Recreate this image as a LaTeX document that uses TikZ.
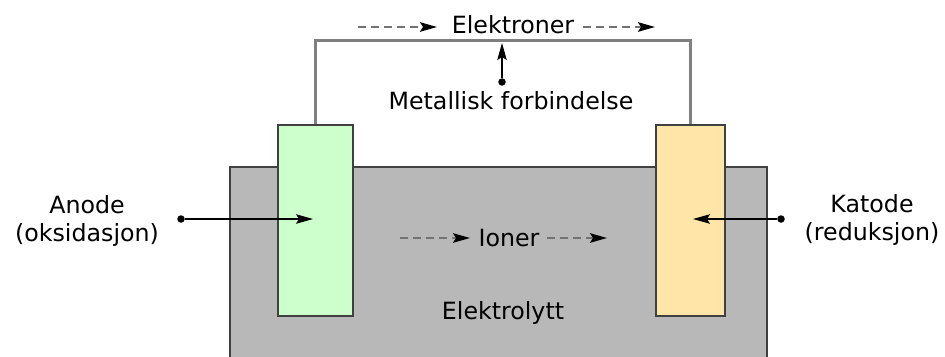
\documentclass[tikz,border=0pt]{standalone}
\usepackage{fontspec}
\setmainfont{DejaVu Sans}
\usetikzlibrary{arrows.meta}
\definecolor{elyt}{HTML}{B8B8B8}
\definecolor{anodegreen}{HTML}{CCFFCC}
\definecolor{katodegul}{HTML}{FFE5A8}
\begin{document}
\begin{tikzpicture}[>={Stealth[length=3.4mm,width=1.9mm,inset=0.6mm]},x=0.02cm,y=-0.02cm,
  font=\fontsize{13.5}{15.5}\selectfont,
  box/.style={draw=black!75,line width=0.7pt,inner sep=0},
  dot/.style={circle,fill=black,inner sep=0,minimum size=0.15cm},
  flow/.style={draw=black!55,line width=1.1pt,dash pattern=on 0.16cm off 0.1cm,
    -{Stealth[black,length=3.4mm,width=1.9mm,inset=0.6mm]}}]
\useasboundingbox (0,0) rectangle (945,356);
\node[box,fill=elyt,minimum width=10.74cm,minimum height=3.9cm] (elyt) at (498.5,264.5) {};
\node[box,fill=anodegreen,minimum width=1.5cm,minimum height=3.82cm] (anode) at (315.5,220.5) {};
\node[box,fill=katodegul,minimum width=1.38cm,minimum height=3.82cm] (katode) at (690.5,220.5) {};
\draw[black!50,line width=1.6pt] (anode.north) -- ++(0,-84) -| (katode.north);
% tekster
\node (elektroner) at (513,25) {Elektroner};
\node (metall) at (511,101) {Metallisk forbindelse};
\node[align=center] (anodetxt) at (87,221) {Anode\\(oksidasjon)};
\node[align=center] (katodetxt) at (872,220) {Katode\\(reduksjon)};
\node (ioner) at (509,238) {Ioner};
\node (elyttxt) at (503,313) {Elektrolytt};
% piler
\coordinate (eA) at (358,27);\coordinate (eB) at (437,27);
\coordinate (eC) at (583,27);\coordinate (eD) at (655,27);
\coordinate (iA) at (400,238);\coordinate (iB) at (470,238);
\coordinate (iC) at (547,238);\coordinate (iD) at (607,238);
\draw[flow] (eA)--(eB);\draw[flow] (eC)--(eD);
\draw[flow] (iA)--(iB);\draw[flow] (iC)--(iD);
\node[dot] (mdot) at (502,82) {};\coordinate (mtop) at (502,43);
\node[dot] (adot) at (181,219) {};\coordinate (atip) at (313,219);
\node[dot] (kdot) at (781,219) {};\coordinate (ktip) at (693,219);
\draw[->,semithick] (mdot)--(mtop);
\draw[->,semithick] (adot)--(atip);
\draw[->,semithick] (kdot)--(ktip);
\end{tikzpicture}
\end{document}
